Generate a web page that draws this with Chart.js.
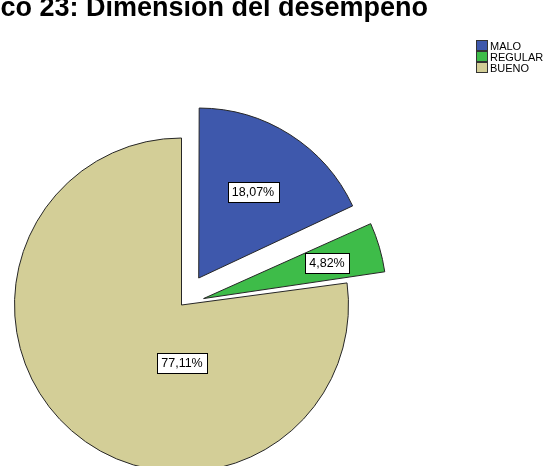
<!DOCTYPE html>
<html>
<head>
<meta charset="utf-8">
<script src="https://cdn.jsdelivr.net/npm/chart.js@4/dist/chart.umd.min.js"></script>
<style>
  html, body { margin: 0; padding: 0; background: #fff; }
  #wrap { width: 552px; height: 466px; position: relative; }
</style>
</head>
<body>
<div id="wrap"><canvas id="pie" width="552" height="466"></canvas></div>
<script>
// Desempeño: distribución por nivel
const categories = ['MALO', 'REGULAR', 'BUENO'];
const percentages = [18.07, 4.82, 77.11];
const sliceColors = ['#3E58AC', '#3EBC49', '#D3CE97'];
const titleText = 'Gráfico 23: Dimensión del desempeño';

// Separation of each slice from the centre (Chart.js moves arcs by offset/4)
const sliceOffsets = [128, 92, 0];
const OFFSET_DIV = 4;

// Where each value label sits: angle (null = slice middle) and fraction of radius
const labelPlacement = [
  { angle: null, r: 0.61 },
  { angle: null, r: 0.77 },
  { angle: Math.PI / 2, r: 0.345 }
];

function fmtPct(v) {
  return v.toFixed(2).replace('.', ',') + '%';
}

const valueLabels = {
  id: 'valueLabels',
  afterDatasetsDraw(chart) {
    const ctx = chart.ctx;
    const meta = chart.getDatasetMeta(0);
    ctx.save();
    ctx.font = '12.5px "Liberation Sans", Arial, sans-serif';
    ctx.textAlign = 'center';
    ctx.textBaseline = 'middle';
    meta.data.forEach((arc, i) => {
      const p = arc.getProps(['x', 'y', 'startAngle', 'endAngle', 'outerRadius'], true);
      const mid = (p.startAngle + p.endAngle) / 2;
      const off = (arc.options.offset || 0) / OFFSET_DIV;
      const cx = p.x + Math.cos(mid) * off;
      const cy = p.y + Math.sin(mid) * off;
      const pl = labelPlacement[i];
      const a = pl.angle === null ? mid : pl.angle;
      const lx = cx + Math.cos(a) * p.outerRadius * pl.r;
      const ly = cy + Math.sin(a) * p.outerRadius * pl.r;
      const txt = fmtPct(percentages[i]);
      const w = Math.round(ctx.measureText(txt).width) + 9;
      const h = 20;
      const bx = Math.round(lx - w / 2) + 0.5;
      const by = Math.round(ly - h / 2) + 0.5;
      ctx.fillStyle = '#ffffff';
      ctx.fillRect(bx, by, w, h);
      ctx.strokeStyle = '#000000';
      ctx.lineWidth = 1;
      ctx.strokeRect(bx, by, w, h);
      ctx.fillStyle = '#000000';
      ctx.fillText(txt, Math.round(lx), Math.round(ly) + 1);
    });
    ctx.restore();
  }
};

const sideLegend = {
  id: 'sideLegend',
  afterDraw(chart) {
    const ctx = chart.ctx;
    const ds = chart.data.datasets[0];
    ctx.save();
    ctx.font = '11px "Liberation Sans", Arial, sans-serif';
    ctx.textAlign = 'left';
    ctx.textBaseline = 'middle';
    chart.data.labels.forEach((lab, i) => {
      const y = 46 + i * 11;
      ctx.fillStyle = ds.backgroundColor[i];
      ctx.fillRect(476.5, y - 5.5, 11, 10);
      ctx.strokeStyle = '#333333';
      ctx.lineWidth = 1;
      ctx.strokeRect(476.5, y - 5.5, 11, 10);
      ctx.fillStyle = '#000000';
      ctx.fillText(lab, 490, y + 0.5);
    });
    ctx.restore();
  }
};

const headTitle = {
  id: 'headTitle',
  afterDraw(chart) {
    const ctx = chart.ctx;
    ctx.save();
    ctx.font = 'bold 27px "Liberation Sans", Arial, sans-serif';
    ctx.fillStyle = '#000000';
    ctx.textAlign = 'right';
    ctx.textBaseline = 'alphabetic';
    ctx.fillText(titleText, 428, 16);
    ctx.restore();
  }
};

new Chart(document.getElementById('pie'), {
  type: 'pie',
  data: {
    labels: categories,
    datasets: [{
      data: percentages,
      backgroundColor: sliceColors,
      borderColor: '#262626',
      borderWidth: 1,
      offset: sliceOffsets,
      hoverOffset: 0,
      clip: false
    }]
  },
  options: {
    responsive: false,
    animation: false,
    devicePixelRatio: 1,
    events: [],
    radius: 167,
    rotation: 0,
    layout: { padding: { left: 0, right: 189, top: 144, bottom: 0 } },
    plugins: {
      legend: { display: false },
      title: { display: false },
      tooltip: { enabled: false }
    }
  },
  plugins: [valueLabels, sideLegend, headTitle]
});
</script>
</body>
</html>
